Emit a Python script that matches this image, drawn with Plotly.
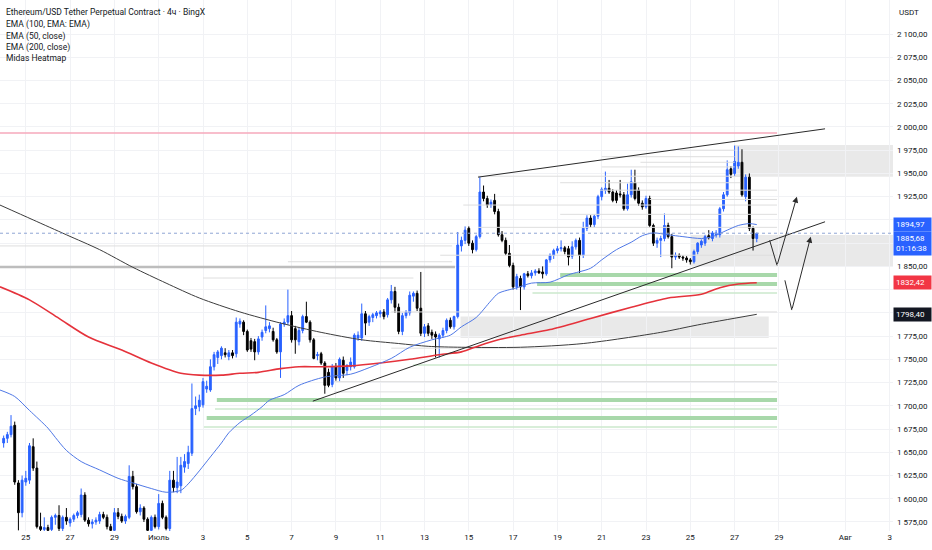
import numpy as np
import pandas as pd
import plotly.graph_objects as go

# 4h candles, first bar 24 Jun 00:00
candle_start = "2023-06-24 00:00"
opens = [1660, 1665, 1669, 1679, 1617, 1585, 1618, 1620, 1656, 1633, 1570, 1567,
         1569, 1567, 1580, 1582, 1568, 1580, 1574, 1578, 1582, 1583, 1604, 1577,
         1573, 1575, 1576, 1583, 1580, 1570, 1566, 1585, 1581, 1576, 1580, 1624,
         1613, 1586, 1590, 1578, 1566, 1580, 1570, 1595, 1580, 1568, 1620, 1612,
         1614, 1634, 1638, 1649, 1697, 1699, 1701, 1718, 1717, 1742, 1752, 1754,
         1757, 1753, 1757, 1756, 1788, 1790, 1780, 1770, 1769, 1758, 1774, 1781,
         1783, 1780, 1771, 1758, 1788, 1790, 1797, 1783, 1769, 1781, 1796, 1790,
         1771, 1754, 1756, 1746, 1736, 1723, 1742, 1730, 1749, 1738, 1742, 1742,
         1773, 1773, 1799, 1790, 1795, 1797, 1799, 1801, 1798, 1814, 1823, 1806,
         1780, 1797, 1800, 1818, 1821, 1805, 1778, 1786, 1779, 1777, 1772, 1776,
         1781, 1792, 1785, 1796, 1872, 1878, 1891, 1875, 1868, 1882, 1930, 1923,
         1916, 1921, 1909, 1884, 1878, 1864, 1851, 1828, 1837, 1828, 1842, 1840,
         1843, 1845, 1844, 1842, 1857, 1862, 1867, 1869, 1870, 1869, 1861, 1871,
         1878, 1862, 1891, 1902, 1895, 1904, 1925, 1932, 1934, 1930, 1929, 1928,
         1927, 1912, 1927, 1940, 1932, 1918, 1914, 1923, 1894, 1875, 1878, 1880,
         1894, 1882, 1860, 1862, 1860, 1859, 1857, 1855, 1866, 1873, 1875, 1883,
         1880, 1884, 1884, 1912, 1927, 1955, 1950, 1958, 1962, 1925, 1946, 1891,
         1880]
highs = [1668, 1672, 1690, 1683, 1620, 1625, 1630, 1660, 1665, 1640, 1585, 1580,
         1572, 1582, 1584, 1593, 1582, 1590, 1580, 1584, 1587, 1611, 1607, 1580,
         1578, 1580, 1586, 1586, 1583, 1573, 1590, 1590, 1584, 1583, 1636, 1630,
         1616, 1594, 1592, 1580, 1582, 1583, 1605, 1598, 1582, 1630, 1630, 1645,
         1645, 1648, 1657, 1724, 1710, 1712, 1730, 1727, 1750, 1758, 1760, 1764,
         1762, 1760, 1760, 1795, 1794, 1792, 1782, 1773, 1772, 1775, 1782, 1808,
         1790, 1784, 1773, 1790, 1794, 1825, 1802, 1786, 1784, 1798, 1812, 1792,
         1773, 1758, 1758, 1748, 1740, 1745, 1746, 1752, 1753, 1745, 1752, 1778,
         1780, 1810, 1802, 1798, 1800, 1802, 1803, 1804, 1816, 1830, 1828, 1810,
         1800, 1803, 1823, 1823, 1824, 1844, 1788, 1789, 1782, 1780, 1778, 1784,
         1794, 1795, 1797, 1887, 1882, 1893, 1893, 1878, 1884, 1946, 1937, 1926,
         1922, 1928, 1912, 1888, 1881, 1873, 1854, 1842, 1840, 1843, 1845, 1846,
         1847, 1848, 1850, 1858, 1864, 1869, 1872, 1878, 1872, 1872, 1877, 1880,
         1881, 1898, 1905, 1905, 1906, 1927, 1935, 1952, 1943, 1933, 1932, 1943,
         1930, 1939, 1954, 1954, 1935, 1921, 1926, 1926, 1896, 1881, 1883, 1907,
         1897, 1885, 1865, 1864, 1862, 1861, 1859, 1868, 1876, 1879, 1884, 1889,
         1888, 1889, 1914, 1930, 1964, 1958, 1980, 1979, 1976, 1949, 1950, 1893,
         1886]
lows = [1655, 1660, 1666, 1615, 1566, 1580, 1614, 1616, 1630, 1568, 1565, 1565,
        1564, 1565, 1572, 1565, 1565, 1572, 1570, 1575, 1579, 1580, 1575, 1570,
        1568, 1572, 1573, 1578, 1567, 1564, 1564, 1578, 1574, 1573, 1578, 1610,
        1584, 1582, 1575, 1564, 1564, 1568, 1567, 1578, 1566, 1565, 1607, 1606,
        1606, 1628, 1632, 1646, 1690, 1694, 1698, 1714, 1715, 1738, 1745, 1750,
        1752, 1749, 1751, 1752, 1784, 1776, 1758, 1758, 1749, 1755, 1770, 1778,
        1779, 1769, 1756, 1730, 1785, 1787, 1768, 1756, 1765, 1778, 1789, 1768,
        1750, 1749, 1744, 1713, 1720, 1720, 1727, 1726, 1730, 1733, 1738, 1740,
        1770, 1770, 1776, 1786, 1790, 1794, 1795, 1793, 1795, 1810, 1800, 1777,
        1776, 1794, 1797, 1812, 1802, 1775, 1774, 1775, 1772, 1752, 1752, 1773,
        1778, 1783, 1782, 1794, 1866, 1874, 1872, 1864, 1866, 1880, 1920, 1913,
        1913, 1906, 1882, 1876, 1862, 1849, 1825, 1825, 1803, 1825, 1838, 1837,
        1840, 1842, 1837, 1840, 1854, 1858, 1864, 1866, 1863, 1851, 1858, 1868,
        1842, 1859, 1888, 1892, 1892, 1901, 1921, 1928, 1928, 1919, 1918, 1924,
        1910, 1910, 1924, 1921, 1915, 1911, 1912, 1892, 1872, 1870, 1860, 1877,
        1880, 1848, 1857, 1858, 1856, 1854, 1852, 1853, 1863, 1870, 1872, 1879,
        1877, 1881, 1881, 1909, 1925, 1945, 1947, 1955, 1925, 1920, 1888, 1867,
        1876]
closes = [1665, 1669, 1678, 1618, 1585, 1620, 1622, 1657, 1633, 1570, 1567, 1569,
          1566, 1580, 1582, 1568, 1580, 1576, 1578, 1582, 1585, 1604, 1577, 1573,
          1575, 1577, 1583, 1580, 1570, 1566, 1585, 1581, 1576, 1581, 1624, 1613,
          1586, 1590, 1578, 1566, 1580, 1570, 1595, 1580, 1568, 1620, 1612, 1618,
          1636, 1640, 1650, 1697, 1700, 1706, 1726, 1721, 1742, 1755, 1758, 1762,
          1755, 1757, 1754, 1790, 1791, 1780, 1760, 1761, 1758, 1772, 1779, 1785,
          1786, 1771, 1758, 1788, 1790, 1797, 1771, 1771, 1781, 1796, 1790, 1771,
          1751, 1755, 1746, 1722, 1722, 1742, 1730, 1750, 1735, 1743, 1747, 1776,
          1776, 1799, 1789, 1796, 1798, 1800, 1801, 1796, 1814, 1823, 1806, 1780,
          1797, 1801, 1819, 1821, 1805, 1778, 1785, 1778, 1776, 1774, 1776, 1781,
          1792, 1785, 1796, 1873, 1878, 1889, 1875, 1868, 1882, 1930, 1923, 1916,
          1919, 1909, 1884, 1878, 1864, 1851, 1828, 1839, 1828, 1842, 1840, 1843,
          1845, 1843, 1842, 1857, 1862, 1867, 1869, 1870, 1866, 1860, 1871, 1878,
          1862, 1891, 1902, 1895, 1904, 1925, 1933, 1934, 1930, 1921, 1921, 1927,
          1912, 1927, 1941, 1923, 1918, 1914, 1923, 1894, 1875, 1878, 1880, 1894,
          1882, 1860, 1862, 1860, 1859, 1857, 1855, 1866, 1875, 1877, 1882, 1881,
          1886, 1886, 1912, 1927, 1954, 1949, 1963, 1962, 1927, 1946, 1891, 1880,
          1885.68]

# indicator values read at some bar indices (bar 0 = first candle)
ema50_idx = [-1, 3, 7, 12, 14, 17, 21, 26, 31, 35, 40, 44, 48, 50, 53, 56, 59, 61, 64,
             67, 70, 72, 76, 80, 87, 94, 99, 105, 110, 116, 121, 124, 128, 132, 134,
             139, 143, 148, 153, 159, 162, 166, 170, 173, 176, 180, 184, 189, 192,
             196, 199, 202, 204]
ema50_val = [1717, 1710, 1695, 1676, 1666, 1652, 1640, 1631, 1622, 1617, 1611, 1607,
             1609, 1616, 1630, 1645, 1660, 1671, 1682, 1690, 1699, 1706, 1712, 1722,
             1731, 1734, 1741, 1751, 1763, 1771, 1776, 1785, 1795, 1813, 1821, 1827,
             1832, 1833, 1841, 1848, 1857, 1868, 1876, 1883, 1886, 1884, 1882, 1880,
             1882, 1889, 1894, 1896, 1894.97]
ema200_idx = [-1, 7, 15, 23, 32, 40, 48, 53, 59, 64, 69, 75, 80, 86, 94, 102, 110,
              118, 124, 129, 134, 140, 148, 159, 170, 180, 189, 194, 199, 204]
ema200_val = [1828, 1814, 1794, 1774, 1760, 1746, 1735, 1733, 1733, 1735, 1736, 1740,
              1742, 1742, 1743, 1746, 1750, 1755, 1758, 1765, 1771, 1776, 1782, 1794,
              1806, 1816, 1820, 1827, 1831, 1832.42]
ema100_idx = [-1, 8, 17, 26, 35, 44, 53, 64, 75, 86, 97, 107, 115, 124, 140, 157,
              178, 188, 204]
ema100_val = [1916, 1900, 1884, 1868, 1849, 1832, 1816, 1801, 1789, 1779, 1771, 1767,
              1764, 1763, 1763, 1767, 1779, 1787, 1798.4]

# drawings
upper_t = ["2023-07-15 10:00", "2023-07-31 02:00"]
upper_p = [1946, 1998]
lower_t = ["2023-07-07 23:00", "2023-07-31 02:00"]
lower_p = [1705, 1898]
resist_p = 1993.5
last_price = 1885.68

# Midas heatmap levels
heat_level = [1840.7, 1831.0, 1821.3, 1743.9, 1706.2, 1696.5, 1686.9, 1677.2,
              1975, 1968, 1962, 1957, 1947, 1940, 1932, 1922, 1916, 1906, 1892,
              1872, 1862, 1855, 1849.3, 1837.5, 1801, 1762, 1726, 1715]
heat_from = ["2023-07-19 03:00", "2023-07-18 02:00", "2023-07-17 21:00", "2023-07-12 12:00",
             "2023-07-03 15:00", "2023-07-03 13:00", "2023-07-03 04:00", "2023-07-03 01:00",
             "2023-07-24 13:00", "2023-07-21 00:00", "2023-07-22 18:00", "2023-07-21 00:00",
             "2023-07-15 10:00", "2023-07-19 03:00", "2023-07-20 22:00", "2023-07-23 04:00",
             "2023-07-14 18:00", "2023-07-19 03:00", "2023-07-15 10:00", "2023-06-20 00:00",
             "2023-07-13 17:00", "2023-07-06 20:00", "2023-06-20 00:00", "2023-07-03 00:00",
             "2023-07-11 12:00", "2023-07-11 12:00", "2023-07-08 22:00", "2023-07-08 22:00"]
heat_to = ["2023-07-28 22:00"] * 8 + [
    "2023-07-27 00:00", "2023-07-27 00:00", "2023-07-27 00:00", "2023-07-27 00:00",
    "2023-07-27 06:00", "2023-07-27 06:00", "2023-07-28 22:00", "2023-07-28 22:00",
    "2023-07-28 22:00", "2023-07-28 22:00", "2023-07-28 22:00", "2023-07-14 06:00",
    "2023-07-28 22:00", "2023-07-14 06:00", "2023-07-14 09:00", "2023-07-12 12:00",
    "2023-07-28 22:00", "2023-07-28 22:00", "2023-07-28 22:00", "2023-07-28 22:00"]
heat_kind = ["green", "green", "green_thin", "green_thin", "green", "green_thin", "green",
             "green_thin"] + ["grey"] * 14 + ["grey_bold"] + ["grey"] * 5

# zones: (from, to, low, high)
zone_from = ["2023-07-27 00:00", "2023-07-25 00:00", "2023-07-14 15:00"]
zone_to = ["2023-08-05 00:00", "2023-08-05 00:00", "2023-07-28 13:00"]
zone_low = [1946.5, 1849.7, 1773]
zone_high = [1980.6, 1883.8, 1796]

# scenario arrows: start -> bottom -> tip
arrow_t = [["2023-07-28 14:00", "2023-07-28 22:00", "2023-07-29 19:30"],
           ["2023-07-29 06:30", "2023-07-29 14:00", "2023-07-30 10:30"]]
arrow_p = [[1878, 1851, 1925], [1835, 1803, 1882]]

times = pd.date_range(candle_start, periods=len(opens), freq="4h")
t0 = times[0]


def idx_time(idx):
    return [t0 + pd.Timedelta(hours=4 * i) for i in idx]


view_start = pd.Timestamp("2023-06-23 20:03")
view_end = pd.Timestamp("2023-08-03 03:38")

heat_style = {
    "green": dict(color="#a8d8aa", width=4),
    "green_thin": dict(color="#cbe8cc", width=1.6),
    "grey": dict(color="#dedede", width=1),
    "grey_bold": dict(color="#bdbdbd", width=2.5),
}

fig = go.Figure()

for kind, style in heat_style.items():
    xs, ys = [], []
    for lv, a, b, k in zip(heat_level, heat_from, heat_to, heat_kind):
        if k == kind:
            xs += [a, b, None]
            ys += [lv, lv, None]
    fig.add_trace(go.Scatter(x=xs, y=ys, mode="lines", line=style, hoverinfo="skip",
                             showlegend=False))

fig.add_trace(go.Scatter(x=[view_start, "2023-07-28 22:00"], y=[resist_p, resist_p],
                         mode="lines", line=dict(color="#f6a9bb", width=1.5),
                         hoverinfo="skip", showlegend=False))

for a, b, lo, hi in zip(zone_from, zone_to, zone_low, zone_high):
    fig.add_shape(type="rect", x0=a, x1=b, y0=lo, y1=hi, xref="x", yref="y",
                  fillcolor="rgba(0,0,0,0.085)", line_width=0, layer="below")

fig.add_shape(type="line", xref="paper", x0=0, x1=1, yref="y", y0=last_price, y1=last_price,
              line=dict(color="#8fa6d4", width=1, dash="dot"))

fig.add_trace(go.Scatter(x=idx_time(ema100_idx), y=ema100_val, mode="lines",
                         line=dict(color="#3c3c3c", width=1, shape="spline", smoothing=0.8),
                         hoverinfo="skip", showlegend=False))
fig.add_trace(go.Scatter(x=idx_time(ema200_idx), y=ema200_val, mode="lines",
                         line=dict(color="#e5323b", width=1.6, shape="spline", smoothing=0.8),
                         hoverinfo="skip", showlegend=False))
fig.add_trace(go.Scatter(x=idx_time(ema50_idx), y=ema50_val, mode="lines",
                         line=dict(color="#4f78e6", width=1, shape="spline", smoothing=0.8),
                         hoverinfo="skip", showlegend=False))

for t, p in [(upper_t, upper_p), (lower_t, lower_p)]:
    fig.add_trace(go.Scatter(x=t, y=p, mode="lines", line=dict(color="#2a2a2a", width=1),
                             hoverinfo="skip", showlegend=False))

fig.add_trace(go.Candlestick(
    x=times, open=opens, high=highs, low=lows, close=closes,
    increasing=dict(line=dict(color="#2962ff", width=1), fillcolor="#2962ff"),
    decreasing=dict(line=dict(color="#000000", width=1), fillcolor="#000000"),
    hoverinfo="skip", showlegend=False))

for t, p in zip(arrow_t, arrow_p):
    fig.add_trace(go.Scatter(x=t[:2], y=p[:2], mode="lines",
                             line=dict(color="#2a2a2a", width=1),
                             hoverinfo="skip", showlegend=False))
    fig.add_annotation(x=t[2], y=p[2], ax=t[1], ay=p[1], xref="x", yref="y",
                       axref="x", ayref="y", text="", showarrow=True,
                       arrowhead=2, arrowsize=1.2, arrowwidth=1, arrowcolor="#2a2a2a")

font_fam = "Roboto, Noto Sans, sans-serif"

legend_lines = ["Ethereum/USD Tether Perpetual Contract · 4ч · BingX",
                "EMA (100, EMA: EMA)", "EMA (50, close)", "EMA (200, close)", "Midas Heatmap"]
legend_y = [12, 24, 36, 47, 58]
for txt, yy in zip(legend_lines, legend_y):
    fig.add_annotation(text=txt, xref="paper", yref="paper", x=0, y=1, xanchor="left",
                       yanchor="middle", xshift=4, yshift=-yy, showarrow=False,
                       font=dict(size=8.5, color="#131722", family=font_fam))

fig.add_annotation(text="USDT", xref="paper", yref="paper", x=1, y=1, xanchor="left",
                   yanchor="middle", xshift=4, yshift=-12, showarrow=False,
                   font=dict(size=8, color="#131722", family=font_fam))

# price labels on the scale
scale_tags = [(1894.97, "1894,97", "#2962ff", "middle"),
              (last_price, "1885,68<br>01:16:38", "#2962ff", "top"),
              (1832.42, "1832,42", "#f23645", "middle"),
              (1798.40, "1798,40", "#131722", "middle")]
for p, txt, col, anc in scale_tags:
    fig.add_annotation(text=txt, xref="paper", yref="y", x=1, y=p, xanchor="left",
                       yanchor=anc, xshift=0, yshift=2 if anc == "top" else 0,
                       showarrow=False, bgcolor=col, borderpad=2, width=33, align="left",
                       font=dict(size=8, color="white", family=font_fam))

x_tick_dates = ["2023-06-25", "2023-06-27", "2023-06-29", "2023-07-01", "2023-07-03",
                "2023-07-05", "2023-07-07", "2023-07-09", "2023-07-11", "2023-07-13",
                "2023-07-15", "2023-07-17", "2023-07-19", "2023-07-21", "2023-07-23",
                "2023-07-25", "2023-07-27", "2023-07-29", "2023-08-01", "2023-08-03"]
x_tick_text = ["25", "27", "29", "Июль", "3", "5", "7", "9", "11", "13", "15", "17", "19",
               "21", "23", "25", "27", "29", "Авг", "3"]
y_ticks = list(range(1575, 2101, 25))
# labels under the price tags are covered on the scale
y_hidden = [1900, 1875, 1825, 1800]
y_tick_text = ["" if v in y_hidden else f"{v:,}".replace(",", " ") + ",00" for v in y_ticks]

fig.update_layout(
    width=932, height=550,
    margin=dict(l=0, r=39, t=0, b=19),
    plot_bgcolor="white", paper_bgcolor="white",
    font=dict(family=font_fam, size=8, color="#131722"),
    showlegend=False,
    xaxis=dict(type="date", range=[view_start, view_end], rangeslider=dict(visible=False),
               tickvals=x_tick_dates, ticktext=x_tick_text, showgrid=True,
               gridcolor="#f1f2f5", gridwidth=1, zeroline=False, showline=False,
               ticks="", tickfont=dict(size=8, color="#131722")),
    yaxis=dict(side="right", range=[1565.3, 2136.6], tickvals=y_ticks, ticktext=y_tick_text,
               showgrid=True, gridcolor="#f1f2f5", gridwidth=1, zeroline=False,
               showline=False, ticks="", ticklabelstandoff=3,
               tickfont=dict(size=8, color="#131722")),
)

fig.write_html("out.html", config={"displayModeBar": False},
               post_script="document.body.style.margin='0';")
